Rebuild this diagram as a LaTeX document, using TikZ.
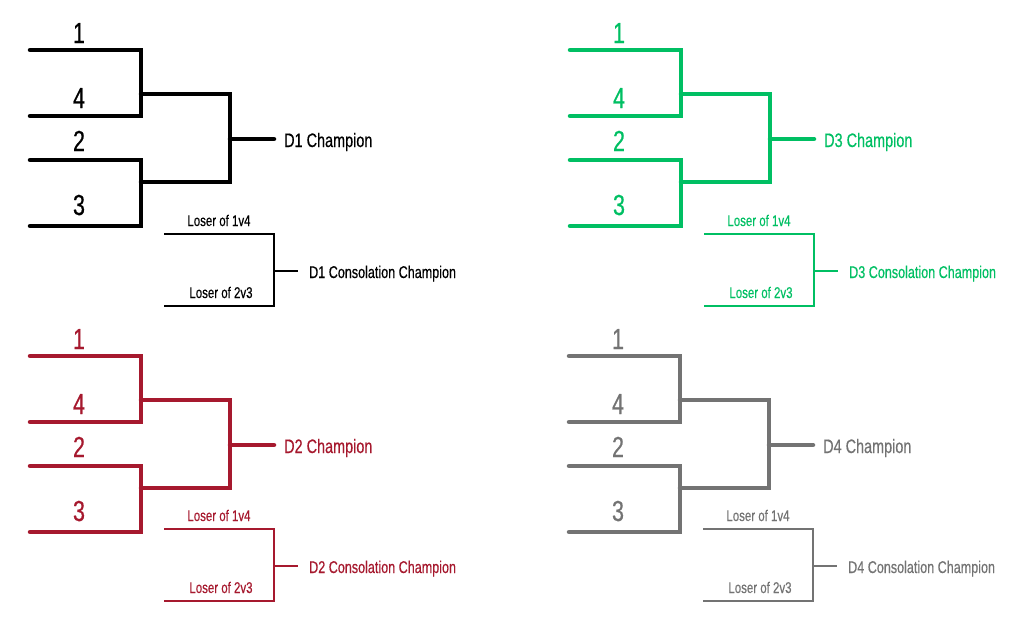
\documentclass[tikz,border=0pt]{standalone}
\usepackage{fontspec}
\setmainfont[FakeStretch=0.74,FakeBold=0.5]{Liberation Sans}
\definecolor{divgreen}{HTML}{00BF63}
\definecolor{divred}{HTML}{A6192E}
\definecolor{divgray}{HTML}{737373}
\tikzset{
  mainline/.style={line width=4.5pt, line cap=round},
  consline/.style={line width=2pt},
  seed/.style={font=\fontsize{29}{29}\selectfont, anchor=base, inner sep=0pt},
  champ/.style={font=\fontsize{19.5}{19.5}\selectfont, anchor=base west, inner sep=0pt},
  conschamp/.style={font=\fontsize{17}{17}\selectfont, anchor=base west, inner sep=0pt},
  loser/.style={font=\fontsize{15.5}{15.5}\selectfont, anchor=base, inner sep=0pt},
}
\begin{document}
\begin{tikzpicture}[x=1pt,y=-1pt]
    \useasboundingbox (0,0) rectangle (1023,624);
    \foreach \dx/\dy/\cy/\col/\div in {0/0/0/black/D1, 540/0/0/divgreen/D3, 0/306/295/divred/D2, 539/306/295/divgray/D4}{
    % main bracket
    \begin{scope}[shift={(\dx,\dy)}, color=\col]
    \node[seed] (s1) at (79,43) {1};
    \node[seed] (s4) at (79,108) {4};
    \node[seed] (s2) at (79,151) {2};
    \node[seed] (s3) at (79,215) {3};
    \coordinate (a1) at (30,50);
    \coordinate (a4) at (30,116);
    \coordinate (a2) at (30,160);
    \coordinate (a3) at (30,226);
    \coordinate (b14) at (141,94);
    \coordinate (b23) at (141,182);
    \coordinate (c14) at (230,94);
    \coordinate (c23) at (230,182);
    \coordinate (cm) at (230,139);
    \coordinate (e) at (274,139);
    \draw[mainline] (a1) -| (b14) |- (a4);
    \draw[mainline] (a2) -| (b23) |- (a3);
    \draw[mainline] (b14) -- (c14) -- (c23) -- (b23);
    \draw[mainline] (cm) -- (e);
    \node[champ] (ch) at (284,147) {\div{} Champion};
    \end{scope}
    % consolation bracket
    \begin{scope}[shift={(\dx,\cy)}, color=\col]
    \coordinate (l1) at (164,234);
    \coordinate (l2) at (164,306);
    \coordinate (v) at (274,271);
    \coordinate (f) at (298,271);
    \draw[consline] (l1) -| (v) |- (l2);
    \draw[consline] (v) -- (f);
    \node[loser] (t1) at (219,226) {Loser of 1v4};
    \node[loser] (t2) at (221,298) {Loser of 2v3};
    \node[conschamp] (cc) at (309,278) {\div{} Consolation Champion};
    \end{scope}
    }
\end{tikzpicture}
\end{document}
